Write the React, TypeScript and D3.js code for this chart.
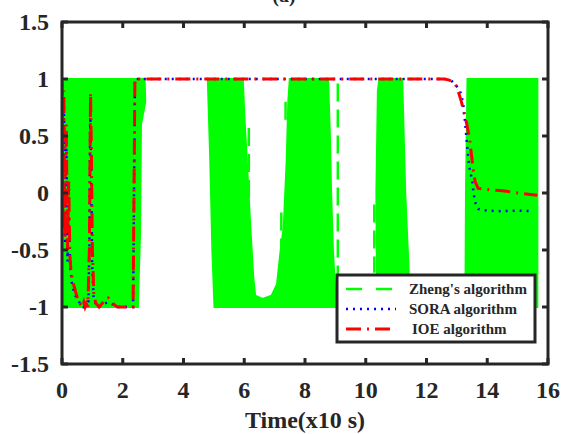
import React from "react";
import * as d3 from "d3";

// ---------- data ----------
const xTicks = [0, 2, 4, 6, 8, 10, 12, 14, 16];
const yTicks = [-1.5, -1, -0.5, 0, 0.5, 1, 1.5];
const yTickLabels = ["-1.5", "-1", "-0.5", "0", "0.5", "1", "1.5"];

// Zheng's algorithm: fast oscillation between -1 and 1, drawn as envelope outlines [time, value]
const zhengBandA: [number, number][] = [
  [0.03, 1], [2.72, 1], [2.74, 0.8], [2.6, 0.6], [2.57, -0.35], [2.52, -0.8], [2.5, -1], [0.03, -1],
];
const zhengBandB: [number, number][] = [
  [4.8, 1], [5.95, 1], [6.0, 0.7], [6.1, 0.2], [6.2, -0.3], [6.3, -0.75], [6.36, -0.9],
  [6.6, -0.93], [6.9, -0.9], [7.08, -0.8], [7.2, -0.5], [7.3, -0.3], [7.4, 0.3], [7.45, 0.8],
  [7.5, 1], [8.76, 1], [8.82, 0.5], [8.86, 0], [8.92, -0.5], [9.0, -0.9], [9.1, -1],
  [5.02, -1], [4.95, -0.5], [4.88, 0.3],
];
const zhengBandC: [number, number][] = [
  [10.45, 1], [11.2, 1], [11.25, 0.5], [11.3, 0], [11.4, -0.6], [11.45, -1], [10.38, -1], [10.35, 0], [10.4, 0.9],
];
const zhengBandD: [number, number][] = [
  [13.35, 1], [15.65, 1], [15.65, -1], [13.28, -1], [13.3, 0],
];
// isolated dashed strokes of the Zheng curve: [time, from, to]
const zhengStrokes: [number, number, number][] = [
  [6.15, 0.57, -0.15], [7.36, 0.8, 0.62], [7.22, -0.17, -0.75], [9.08, 0.96, -1], [10.28, -0.1, -0.7],
];

// SORA algorithm
const soraT = [0, 0.03, 0.06, 0.1, 0.14, 0.18, 0.22, 0.27, 0.33, 0.4, 0.5, 0.6, 0.7, 0.8, 0.87, 0.9, 0.93, 0.96, 0.99, 1.04, 1.12, 1.22, 1.32, 1.5, 1.7, 1.82, 2.34, 2.4, 12.6, 12.8, 12.95, 13.1, 13.2, 13.27, 13.33, 13.4, 13.5, 13.55, 13.6, 13.7, 14.0, 14.5, 15.0, 15.5];
const soraV = [0.95, -0.25, 0.85, -0.45, 0.5, -0.6, -0.2, -0.65, -0.8, -0.88, -0.93, -0.97, -1, -0.98, -0.95, -0.5, 0.7, 0.2, -0.6, -0.92, -0.98, -1, -0.98, -0.96, -0.98, -1, -1, 1, 1, 0.99, 0.95, 0.9, 0.8, 0.62, 0.44, 0.24, 0.11, 0.0, -0.08, -0.14, -0.155, -0.16, -0.155, -0.16];

// IOE algorithm
const ioeT = [0, 0.03, 0.06, 0.1, 0.14, 0.18, 0.22, 0.26, 0.3, 0.38, 0.46, 0.55, 0.62, 0.68, 0.72, 0.76, 0.8, 0.85, 0.9, 0.94, 0.97, 1.0, 1.05, 1.12, 1.22, 1.32, 1.42, 1.52, 1.62, 1.72, 1.82, 2.34, 2.4, 12.6, 12.75, 12.9, 13.0, 13.15, 13.33, 13.43, 13.53, 13.6, 13.7, 14.0, 14.5, 15.0, 15.65];
const ioeV = [0.98, -0.3, 0.9, -0.4, 0.6, -0.5, 0.1, -0.55, -0.7, -0.8, -0.88, -0.95, -0.98, -1, -0.96, -1, -0.97, -1, -0.5, 0.88, 0.3, -0.5, -0.9, -0.97, -1, -0.97, -0.93, -0.92, -0.94, -0.98, -1, -1, 1, 1, 0.99, 0.97, 0.93, 0.8, 0.6, 0.45, 0.22, 0.1, 0.04, 0.03, 0.02, 0.0, -0.02];

const seriesNames = ["Zheng's algorithm", "SORA algorithm", "IOE algorithm"];
const seriesColors = ["#00ff00", "#0000ff", "#ff0000"];
const seriesDash = ["16,14", "2,5", "15,6,2,6"];

// ---------- layout ----------
const W = 573, H = 434;
const L = 62, R = 548, T = 22, B = 364;
const font = "Liberation Serif";
const ink = "#262626";

export default function App() {
  const x = d3.scaleLinear().domain([0, 16]).range([L, R]);
  const y = d3.scaleLinear().domain([-1.5, 1.5]).range([B, T]);
  const poly = d3.line<[number, number]>().x(d => x(d[0])).y(d => y(d[1]));
  const pathOf = (ts: number[], vs: number[]) =>
    d3.line<number>().x(d => x(ts[d])).y(d => y(vs[d]))(ts.map((_, i) => i)) || "";
  const bands = [zhengBandA, zhengBandB, zhengBandC, zhengBandD];
  const tickLen = 6;
  const legX = 337, legY = 275, legW = 198, legH = 67;
  const txt = { fontFamily: font, fontWeight: 700 } as React.CSSProperties;

  return (
    <svg width={W} height={H} style={{ position: "absolute", left: 0, top: 0, background: "#fff" }}>
      <rect x={0} y={0} width={W} height={H} fill="#fff" />
      <text x={284} y={2} fontSize={20} textAnchor="middle" fill={ink} style={txt}>(a)</text>
      <defs>
        <clipPath id="plot"><rect x={L} y={T} width={R - L} height={B - T} /></clipPath>
      </defs>
      <g clipPath="url(#plot)">
        {bands.map((b, i) => (
          <path key={i} d={(poly(b) || "") + "Z"} fill={seriesColors[0]} stroke={seriesColors[0]} strokeWidth={2} />
        ))}
        {zhengStrokes.map((s, i) => (
          <line key={i} x1={x(s[0])} x2={x(s[0])} y1={y(s[1])} y2={y(s[2])}
            stroke={seriesColors[0]} strokeWidth={2.5} strokeDasharray="18,8" />
        ))}
        <path d={pathOf(soraT, soraV)} fill="none" stroke={seriesColors[1]} strokeWidth={2.5} strokeDasharray={seriesDash[1]} />
        <path d={pathOf(ioeT, ioeV)} fill="none" stroke={seriesColors[2]} strokeWidth={3} strokeDasharray={seriesDash[2]} />
      </g>
      {/* frame */}
      <rect x={L} y={T} width={R - L} height={B - T} fill="none" stroke={ink} strokeWidth={3} />
      {xTicks.map(t => (
        <g key={"x" + t}>
          <line x1={x(t)} x2={x(t)} y1={B} y2={B - tickLen} stroke={ink} strokeWidth={3} />
          <line x1={x(t)} x2={x(t)} y1={T} y2={T + tickLen} stroke={ink} strokeWidth={3} />
          <text x={x(t)} y={398} fontSize={24} textAnchor="middle" fill={ink} style={txt}>{t}</text>
        </g>
      ))}
      {yTicks.map((v, i) => (
        <g key={"y" + v}>
          <line x1={L} x2={L + tickLen} y1={y(v)} y2={y(v)} stroke={ink} strokeWidth={3} />
          <line x1={R} x2={R - tickLen} y1={y(v)} y2={y(v)} stroke={ink} strokeWidth={3} />
          <text x={49} y={y(v)} dy="0.35em" fontSize={24} textAnchor="end" fill={ink} style={txt}>{yTickLabels[i]}</text>
        </g>
      ))}
      <text x={305} y={428} fontSize={24} textAnchor="middle" fill={ink} style={txt}>Time(x10 s)</text>
      {/* legend */}
      <rect x={legX} y={legY} width={legW} height={legH} fill="#fff" stroke={ink} strokeWidth={3} />
      {seriesNames.map((n, i) => {
        const ry = legY + 14 + i * 20;
        return (
          <g key={n}>
            <line x1={346} x2={396} y1={ry} y2={ry} stroke={seriesColors[i]}
              strokeWidth={i === 2 ? 3 : 2.5} strokeDasharray={seriesDash[i]} />
            <text x={i === 2 ? 412 : 409} y={ry} dy="0.35em" fontSize={15} fill={ink} style={txt}>{n}</text>
          </g>
        );
      })}
    </svg>
  );
}
